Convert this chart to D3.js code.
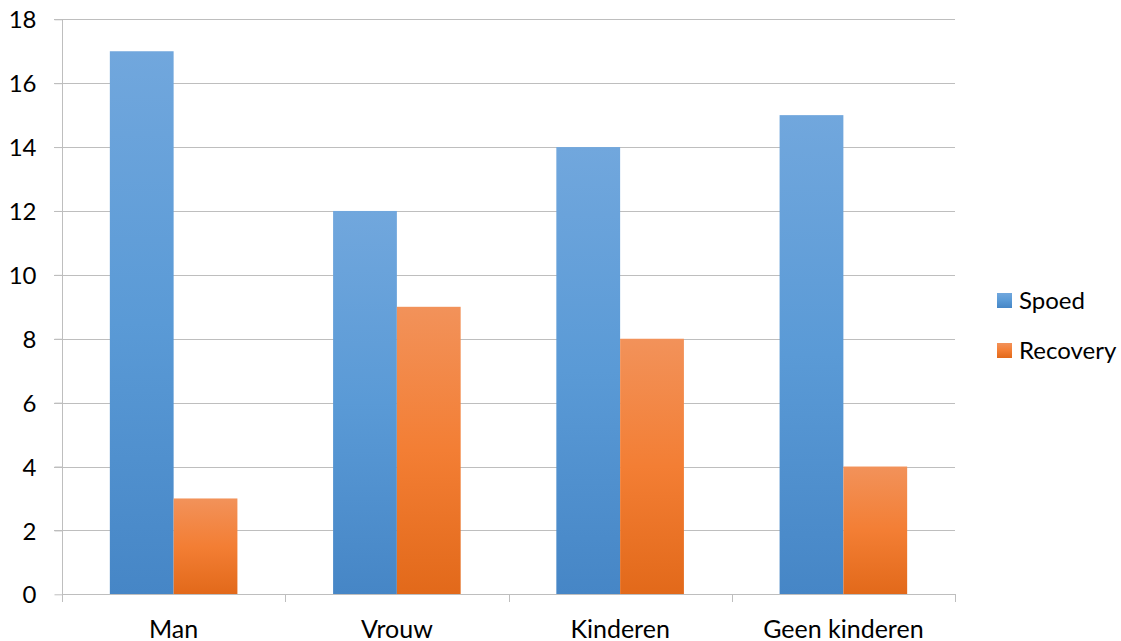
<!DOCTYPE html>
<html><head><meta charset="utf-8">
<script src="https://cdn.jsdelivr.net/npm/d3@7"></script>
<style>body{margin:0;background:#fff}svg{display:block}text{font-family:Lato,"Open Sans",sans-serif;fill:#000}</style>
</head><body><svg id="c" width="1121" height="641"></svg>
<script>
const categories = ["Man", "Vrouw", "Kinderen", "Geen kinderen"];
const seriesNames = ["Spoed", "Recovery"];
const spoed = [17, 12, 14, 15];
const recovery = [3, 9, 8, 4];
const yTicks = [0, 2, 4, 6, 8, 10, 12, 14, 16, 18];

const svg = d3.select("#c");
const L = 62, R = 955, T = 19.3, B = 594.3;
const x = d3.scaleBand().domain(categories).range([L, R]).paddingInner(0).paddingOuter(0);
const bw = x.bandwidth() / 3.5;
const xs = d3.scaleBand().domain(seriesNames).range([0.75 * bw, 2.75 * bw]);
const y = d3.scaleLinear().domain([0, 18]).range([B, T]);

const defs = svg.append("defs");
const grads = [["#71a7dd", "#5a9ad6", "#4686c6"], ["#f2925a", "#f37e34", "#e2691a"]];
grads.forEach((g, i) => {
  const lg = defs.append("linearGradient").attr("id", "g" + i).attr("x1", 0).attr("y1", 0).attr("x2", 0).attr("y2", 1);
  lg.append("stop").attr("offset", "0%").attr("stop-color", g[0]);
  lg.append("stop").attr("offset", "50%").attr("stop-color", g[1]);
  lg.append("stop").attr("offset", "100%").attr("stop-color", g[2]);
});

// gridlines
svg.append("g").selectAll("line").data(yTicks.filter(d => d > 0)).join("line")
  .attr("x1", L - 8).attr("x2", R).attr("y1", d => Math.round(y(d)) + 0.5).attr("y2", d => Math.round(y(d)) + 0.5)
  .attr("stroke", "#bebebe").attr("stroke-width", 1);

// y axis
const ya = svg.append("g").attr("transform", `translate(${L + 0.5},0)`)
  .call(d3.axisLeft(y).tickValues(yTicks).tickSize(8).tickPadding(18));
ya.select(".domain").attr("stroke", "#bebebe").attr("d", `M-8,${Math.round(T)+0.5}H0V${Math.round(B)+0.5}`);
ya.selectAll(".tick line").attr("stroke", "#bebebe");
ya.selectAll(".tick text").attr("font-size", 24).attr("font-family", "Lato").attr("fill", "#000").attr("dy", "0.36em");

// bars
const data = categories.map((c, i) => ({c, vals: [spoed[i], recovery[i]]}));
const gb = svg.append("g");
data.forEach(d => {
  d.vals.forEach((v, j) => {
    gb.append("rect")
      .attr("x", x(d.c) + xs(seriesNames[j]))
      .attr("width", xs.bandwidth())
      .attr("y", y(v)).attr("height", y(0) - y(v))
      .attr("fill", `url(#g${j})`);
  });
});

// x axis
const xa = svg.append("g").attr("transform", `translate(0,${Math.round(B) + 0.5})`)
  .call(d3.axisBottom(x).tickSize(0));
xa.select(".domain").attr("stroke", "#bebebe").attr("d", `M${L},0H${R}`);
xa.selectAll(".tick text").attr("font-size", 25).attr("font-family", "Lato").attr("fill", "#000")
  .attr("y", 43).attr("dy", 0);
svg.append("g").selectAll("line").data(d3.range(categories.length + 1)).join("line")
  .attr("x1", i => Math.round(L + i * x.bandwidth()) + 0.5).attr("x2", i => Math.round(L + i * x.bandwidth()) + 0.5)
  .attr("y1", Math.round(B)).attr("y2", Math.round(B) + 8).attr("stroke", "#bebebe");

// legend
const lg = svg.append("g");
seriesNames.forEach((s, i) => {
  const yy = 293 + i * 50;
  lg.append("rect").attr("x", 997).attr("y", yy).attr("width", 15).attr("height", 15).attr("fill", `url(#g${i})`);
  lg.append("text").attr("x", 1019).attr("y", yy + 16).attr("font-size", 24).text(s);
});
</script></body></html>
